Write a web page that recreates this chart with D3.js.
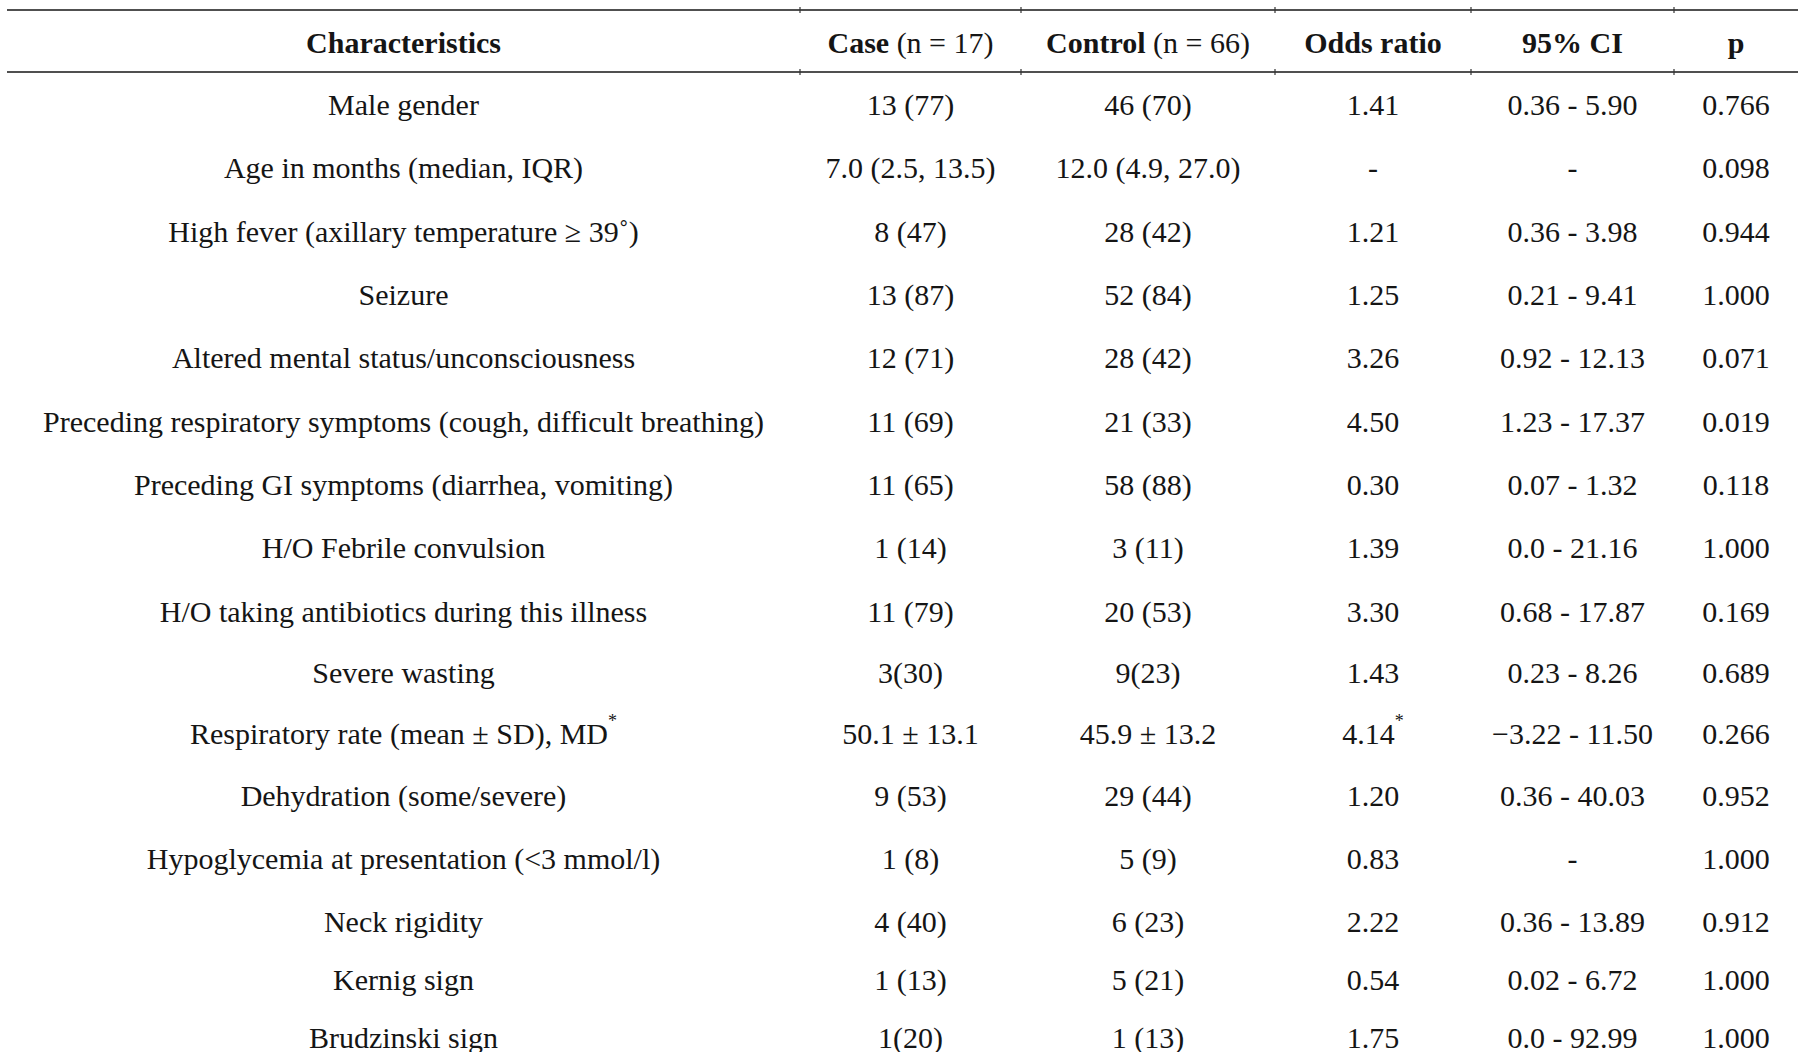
<!DOCTYPE html>
<html>
<head>
<meta charset="utf-8">
<script src="https://cdn.jsdelivr.net/npm/d3@7"></script>
<style>
  html, body { margin: 0; padding: 0; background: #fff; }
  svg { display: block; }
</style>
</head>
<body>
<svg id="chart" width="1801" height="1052"></svg>
<script>
// ---------- data ----------
const headers = ["Characteristics", "Case (n = 17)", "Control (n = 66)", "Odds ratio", "95% CI", "p"];
const characteristics = [
  "Male gender",
  "Age in months (median, IQR)",
  "High fever (axillary temperature \u2265 39\u02da)",
  "Seizure",
  "Altered mental status/unconsciousness",
  "Preceding respiratory symptoms (cough, difficult breathing)",
  "Preceding GI symptoms (diarrhea, vomiting)",
  "H/O Febrile convulsion",
  "H/O taking antibiotics during this illness",
  "Severe wasting",
  "Respiratory rate (mean \u00b1 SD), MD*",
  "Dehydration (some/severe)",
  "Hypoglycemia at presentation (<3 mmol/l)",
  "Neck rigidity",
  "Kernig sign",
  "Brudzinski sign"
];
const caseVals = ["13 (77)", "7.0 (2.5, 13.5)", "8 (47)", "13 (87)", "12 (71)", "11 (69)", "11 (65)", "1 (14)", "11 (79)", "3(30)", "50.1 \u00b1 13.1", "9 (53)", "1 (8)", "4 (40)", "1 (13)", "1(20)"];
const controlVals = ["46 (70)", "12.0 (4.9, 27.0)", "28 (42)", "52 (84)", "28 (42)", "21 (33)", "58 (88)", "3 (11)", "20 (53)", "9(23)", "45.9 \u00b1 13.2", "29 (44)", "5 (9)", "6 (23)", "5 (21)", "1 (13)"];
const oddsRatios = ["1.41", "-", "1.21", "1.25", "3.26", "4.50", "0.30", "1.39", "3.30", "1.43", "4.14*", "1.20", "0.83", "2.22", "0.54", "1.75"];
const ciVals = ["0.36 - 5.90", "-", "0.36 - 3.98", "0.21 - 9.41", "0.92 - 12.13", "1.23 - 17.37", "0.07 - 1.32", "0.0 - 21.16", "0.68 - 17.87", "0.23 - 8.26", "\u22123.22 - 11.50", "0.36 - 40.03", "-", "0.36 - 13.89", "0.02 - 6.72", "0.0 - 92.99"];
const pVals = ["0.766", "0.098", "0.944", "1.000", "0.071", "0.019", "0.118", "1.000", "0.169", "0.689", "0.266", "0.952", "1.000", "0.912", "1.000", "1.000"];

// ---------- layout ----------
const svg = d3.select("#chart");
const colEdges = [7, 800, 1021, 1275, 1471, 1674, 1798];
const colCenter = i => (colEdges[i] + colEdges[i + 1]) / 2;
const rowY = d3.scaleLinear().domain([0, 8, 10, 13, characteristics.length - 1]).range([104.5, 611, 733, 921, 1037]);
const topLineY = 10, headLineY = 72, headerY = 42;
const fontFamily = "'Liberation Serif', 'Times New Roman', serif";
const fontSize = 30;
const textColor = "#151515";
const lineColor = "#505050";

const columns = [characteristics, caseVals, controlVals, oddsRatios, ciVals, pVals];

// rules
[topLineY, headLineY].forEach(y => {
  svg.append("line")
    .attr("x1", colEdges[0]).attr("x2", colEdges[colEdges.length - 1])
    .attr("y1", y).attr("y2", y)
    .attr("stroke", lineColor).attr("stroke-width", 2.2);
  colEdges.slice(1, -1).forEach(x => {
    svg.append("line")
      .attr("x1", x).attr("x2", x)
      .attr("y1", y - 3).attr("y2", y + 3)
      .attr("stroke", "#333").attr("stroke-width", 1.2);
  });
});

// header
svg.append("g").selectAll("text")
  .data(headers)
  .join("text")
  .attr("x", (d, i) => colCenter(i))
  .attr("y", headerY)
  .attr("text-anchor", "middle")
  .attr("dominant-baseline", "central")
  .attr("font-family", fontFamily)
  .attr("font-size", fontSize)
  .attr("fill", textColor)
  .each(function (d) {
    const t = d3.select(this);
    if (d.startsWith("Case") || d.startsWith("Control")) {
      const idx = d.indexOf(" (");
      t.append("tspan").attr("font-weight", "bold").text(d.slice(0, idx));
      t.append("tspan").text(d.slice(idx));
    } else {
      t.append("tspan").attr("font-weight", "bold").text(d);
    }
  });

// body cells
const body = svg.append("g");
columns.forEach((col, ci) => {
  body.append("g").selectAll("text")
    .data(col)
    .join("text")
    .attr("x", colCenter(ci))
    .attr("y", (d, i) => rowY(i))
    .attr("text-anchor", "middle")
    .attr("dominant-baseline", "central")
    .attr("font-family", fontFamily)
    .attr("font-size", fontSize)
    .attr("fill", textColor)
    .each(function (d) {
      const t = d3.select(this);
      if (d.endsWith("*")) {
        t.append("tspan").text(d.slice(0, -1));
        t.append("tspan").attr("font-size", fontSize * 0.6).attr("dy", -12).text("*");
      } else {
        t.text(d);
      }
    });
});
</script>
</body>
</html>
